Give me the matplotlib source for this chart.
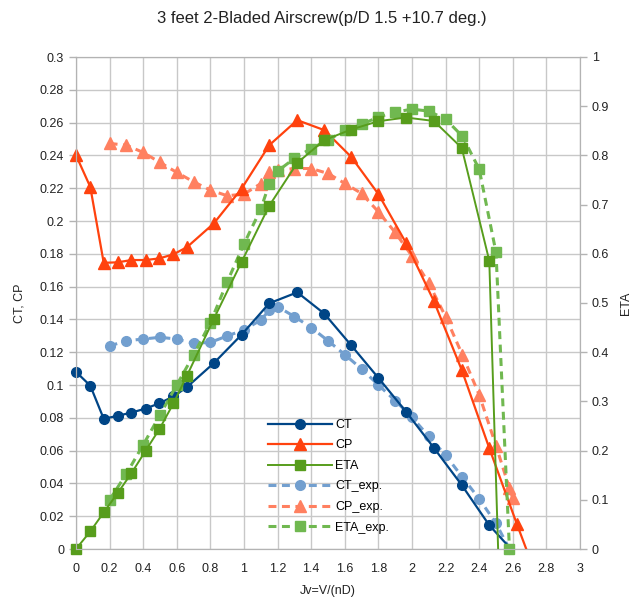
import numpy as np
import matplotlib
matplotlib.use('Agg')
import matplotlib.pyplot as plt

plt.rcParams['font.family'] = ['Liberation Sans', 'DejaVu Sans']

# calculated values (model)
J = [0, 0.085, 0.165, 0.248, 0.33, 0.414, 0.497, 0.58, 0.66, 0.82, 0.986,
     1.15, 1.317, 1.478, 1.638, 1.80, 1.964, 2.13, 2.296, 2.46, 2.625, 2.79]
CT = [0.108, 0.0996, 0.0794, 0.0812, 0.0832, 0.0856, 0.0889, 0.093, 0.0987,
      0.1133, 0.1307, 0.1498, 0.1565, 0.1435, 0.1242, 0.1043, 0.0838, 0.0617,
      0.039, 0.0145, -0.004, -0.03]
CP = [0.2401, 0.2208, 0.1745, 0.1748, 0.1762, 0.1762, 0.1772, 0.1797, 0.184,
      0.1985, 0.2198, 0.2462, 0.2615, 0.2554, 0.2391, 0.2164, 0.1867, 0.1512,
      0.1092, 0.0615, 0.0150, -0.03]
ETA = [0, 0.0357, 0.0743, 0.1137, 0.154, 0.1996, 0.244, 0.296, 0.352, 0.4675,
       0.5838, 0.6976, 0.7848, 0.831, 0.8526, 0.8695, 0.877, 0.870, 0.8153,
       0.5859, -1.25, -3.0]

# experimental values
J_exp = [0.2, 0.3, 0.4, 0.5, 0.6, 0.7, 0.8, 0.9, 1.0, 1.1, 1.15, 1.2, 1.3, 1.4,
         1.5, 1.6, 1.7, 1.8, 1.9, 2.0, 2.1, 2.2, 2.3, 2.4, 2.5, 2.58, 2.6]
CT_exp = [0.1238, 0.127, 0.128, 0.1291, 0.128, 0.1254, 0.126, 0.1299, 0.1336,
          0.1396, 0.1455, 0.1478, 0.1417, 0.135, 0.127, 0.1185, 0.1098, 0.100,
          0.0905, 0.0804, 0.0686, 0.0572, 0.0438, 0.0306, 0.0156, 0.0, -0.003]
CP_exp = [0.2473, 0.2462, 0.2418, 0.2357, 0.2296, 0.2239, 0.2188, 0.2154,
          0.2164, 0.2228, 0.230, 0.231, 0.232, 0.232, 0.229, 0.2229, 0.2168,
          0.2056, 0.193, 0.1786, 0.162, 0.1417, 0.1183, 0.094, 0.063, 0.037,
          0.031]
ETA_exp = [0.100, 0.1528, 0.2117, 0.2726, 0.3335, 0.3944, 0.46, 0.543, 0.62,
           0.691, 0.742, 0.768, 0.794, 0.814, 0.831, 0.851, 0.863, 0.878, 0.888,
           0.894, 0.89, 0.8735, 0.839, 0.772, 0.603, 0.0, -0.25]

c_ct, c_cp, c_eta = '#004586', '#ff420e', '#579d1c'
c_ct2, c_cp2, c_eta2 = '#729fcf', '#ff8060', '#70b850'
dash = (0, (2.6, 1.8))

fig = plt.figure(figsize=(6.44, 6.03), dpi=100)
ax = fig.add_axes([76 / 644, 1 - 549 / 603, 504 / 644, 492 / 603])
ax2 = ax.twinx()


def series(a, x, y, ymax, color, lw, ls, marker, ms, label):
    # line clipped to the plot area, markers for in-range points left unclipped
    x = np.asarray(x)
    y = np.asarray(y)
    h, = a.plot(x, y, color=color, lw=lw, ls=ls, marker=marker, ms=ms,
                markevery=[], label=label)
    ok = (y >= 0) & (y <= ymax)
    a.plot(x[ok], y[ok], ls='none', marker=marker, ms=ms, color=color,
           clip_on=False, zorder=h.get_zorder())
    h2, = a.plot([], [], color=color, lw=lw, ls=ls, marker=marker, ms=ms)
    return h2


# experimental (dashed) first so model lines sit on top
h4 = series(ax, J_exp, CT_exp, 0.3, c_ct2, 2.2, dash, 'o', 7, 'CT_exp.')
h5 = series(ax, J_exp, CP_exp, 0.3, c_cp2, 2.2, dash, '^', 8, 'CP_exp.')
h1 = series(ax, J, CT, 0.3, c_ct, 1.6, '-', 'o', 7, 'CT')
h2 = series(ax, J, CP, 0.3, c_cp, 1.6, '-', '^', 8, 'CP')
h6 = series(ax2, J_exp, ETA_exp, 1.0, c_eta2, 2.2, dash, 's', 6.5, 'ETA_exp.')
h3 = series(ax2, J, ETA, 1.0, c_eta, 1.4, '-', 's', 6.5, 'ETA')

ax.set_xlim(0, 3)
ax.set_ylim(0, 0.3)
ax2.set_ylim(0, 1)
ax.set_xticks(np.arange(0, 3.01, 0.2))
ax.set_yticks(np.arange(0, 0.301, 0.02))
ax2.set_yticks(np.arange(0, 1.01, 0.1))
ax.set_xticklabels(['{:g}'.format(round(v, 1)) for v in np.arange(0, 3.01, 0.2)])
ax.set_yticklabels(['{:g}'.format(round(v, 2)) for v in np.arange(0, 0.301, 0.02)])
ax2.set_yticklabels(['{:g}'.format(round(v, 1)) for v in np.arange(0, 1.01, 0.1)])

ax.grid(True, color='#c8c8c8', lw=1)
ax.set_axisbelow(True)
for a in (ax, ax2):
    for s in a.spines.values():
        s.set_color('#b3b3b3')
    a.tick_params(colors='#b3b3b3', labelcolor='#222222', labelsize=9,
                  length=5, width=1)
ax.tick_params(axis='x', length=0, pad=10)

ax.set_xlabel('Jv=V/(nD)', fontsize=9, color='#222222', labelpad=7)
ax.set_ylabel('CT, CP', fontsize=9, color='#222222', labelpad=10)
ax2.set_ylabel('ETA', fontsize=9, color='#222222', labelpad=8)
fig.suptitle('3 feet 2-Bladed Airscrew(p/D 1.5 +10.7 deg.)', fontsize=12,
             y=1 - 18 / 603, va='center', color='#222222')

leg = fig.legend([h1, h2, h3, h4, h5, h6],
                 ['CT', 'CP', 'ETA', 'CT_exp.', 'CP_exp.', 'ETA_exp.'],
                 loc='upper left', bbox_to_anchor=(268 / 644, 1 - 419 / 603),
                 frameon=False, fontsize=9, handlelength=5.1,
                 handletextpad=0.3, labelspacing=0.68, borderpad=0,
                 borderaxespad=0)

fig.savefig('out.png', dpi=100)
